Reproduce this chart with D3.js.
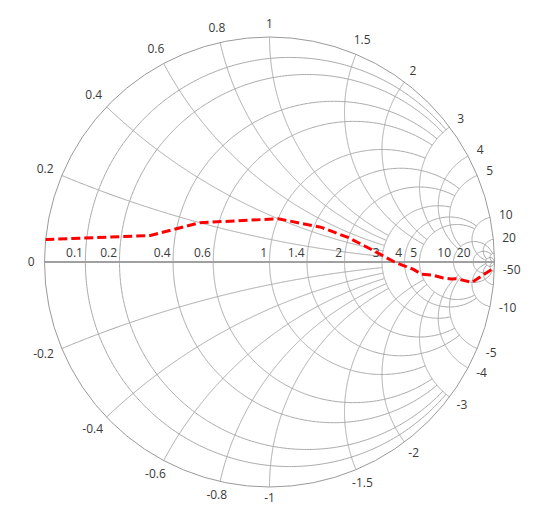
<!DOCTYPE html>
<meta charset="utf-8">
<head>
    <title>Smith chart</title>
</head>

<style>
body { margin: 0; background: #fff; }

.grid path {
  fill: none;
  stroke: #a8a8a8;
  stroke-width: 1;
}

.outer {
  fill: none;
  stroke: #9a9a9a;
  stroke-width: 1;
}

.axis-line {
  stroke: #a0a0a0;
  stroke-width: 2;
}

.label {
  font: 12px "Open Sans", sans-serif;
  fill: #3a3a3a;
}

.series {
  fill: none;
  stroke: #ff0000;
  stroke-width: 3;
  stroke-dasharray: 9,4;
}
</style>
<body>
<script src="https://cdn.jsdelivr.net/npm/d3@7/dist/d3.min.js"></script>
<script>

// grid values
var resistanceGrid = [0.1, 0.2, 0.4, 0.6, 1, 1.4, 2, 3, 4, 5, 10, 20, 50];
// reactance where each resistance circle stops
var resistanceStop = [3, 3, 3, 3, 3, 5, 5, 5, 10, 10, 50, 50, Infinity];

var reactanceGrid = [0.2, 0.4, 0.6, 0.8, 1, 1.5, 2, 3, 4, 5, 10, 20, 50];
// resistance where each reactance arc stops
var reactanceStop = [3, 3, 3, 3, 3, 5, 5, 5, 10, 10, 50, 50, Infinity];

// labels shown
var resistanceLabels = [0, 0.1, 0.2, 0.4, 0.6, 1, 1.4, 2, 3, 4, 5, 10, 20];
var reactanceLabels = [0.2, 0.4, 0.6, 0.8, 1, 1.5, 2, 3, 4, 5, 10, 20,
                       -0.2, -0.4, -0.6, -0.8, -1, -1.5, -2, -3, -4, -5, -10, -50];

// series (Transmission)
var seriesResistance = [20, 10, 9, 8, 7, 6, 5, 4.5, 3.5, 2.5, 2, 1.5, 1, 0.5, 0.3, 0];
var seriesReactance = [-50, -10, -4.5, -3.5, -2.5, -1.5, -1, -0.5, 0, 0.4, 0.5, 0.5, 0.4, 0.2, 0.1, 0.05];

var width = 553, height = 523;
var cx = 269.5, cy = 262, radius = 225;

var gx = d3.scaleLinear().domain([-1, 1]).range([cx - radius, cx + radius]);
var gy = d3.scaleLinear().domain([-1, 1]).range([cy + radius, cy - radius]);

// reflection coefficient of z = r + jx
function gamma(r, x) {
  var a = r - 1, c = r + 1;
  var den = c * c + x * x;
  return [(a * c + x * x) / den, (x * c - a * x) / den];
}

var line = d3.line()
    .x(function(d) { return gx(d[0]); })
    .y(function(d) { return gy(d[1]); });

var svg = d3.select("body").append("svg")
    .attr("width", width)
    .attr("height", height);

var grid = svg.append("g").attr("class", "grid");

// resistance circles, between -stop and +stop reactance
resistanceGrid.forEach(function(r, k) {
  var end = Math.min(Math.atan(resistanceStop[k]), 1.5707963);
  var pts = d3.range(0, 601).map(function(i) {
    return gamma(r, Math.tan(-end + 2 * end * i / 600));
  });
  grid.append("path").attr("d", line(pts));
});

// reactance arcs, from the outer circle in to their stop resistance
reactanceGrid.forEach(function(x, k) {
  var end = Math.min(Math.atan(reactanceStop[k]), 1.5707);
  [x, -x].forEach(function(v) {
    var pts = d3.range(0, 401).map(function(i) {
      return gamma(Math.tan(end * i / 400), v);
    });
    grid.append("path").attr("d", line(pts));
  });
});

svg.append("circle")
    .attr("class", "outer")
    .attr("cx", gx(0))
    .attr("cy", gy(0))
    .attr("r", gx(1) - gx(0));

svg.append("line")
    .attr("class", "axis-line")
    .attr("x1", gx(-1))
    .attr("x2", gx(1))
    .attr("y1", gy(0))
    .attr("y2", gy(0));

// horizontal axis labels
svg.selectAll(".hlabel")
    .data(resistanceLabels)
  .enter().append("text")
    .attr("class", "label hlabel")
    .style("text-anchor", "end")
    .attr("x", function(d) { return gx((d - 1) / (d + 1)) - (d === 0 ? 10 : 2.5); })
    .attr("y", function(d) { return d === 0 ? gy(0) + 4.3 : gy(0) - 5.5; })
    .text(function(d) { return d; });

// radial axis labels
svg.selectAll(".rlabel")
    .data(reactanceLabels)
  .enter().append("text")
    .attr("class", "label rlabel")
    .style("text-anchor", "middle")
    .text(function(d) { return d; })
    .each(function(d) {
      var g = gamma(0, d);
      var th = Math.atan2(g[1], g[0]);
      var w = this.getComputedTextLength();
      var dist = radius + 8.5 + (w / 2) * Math.abs(Math.cos(th)) + 4.5 * Math.abs(Math.sin(th));
      d3.select(this)
          .attr("x", cx + dist * Math.cos(th))
          .attr("y", cy - dist * Math.sin(th) + 4.3 - (d < 0 ? 2 : 0));
    });

// series
var seriesPts = seriesResistance.map(function(r, i) { return gamma(r, seriesReactance[i]); });
svg.append("path")
    .attr("class", "series")
    .attr("d", line(seriesPts));

</script>
</body>
